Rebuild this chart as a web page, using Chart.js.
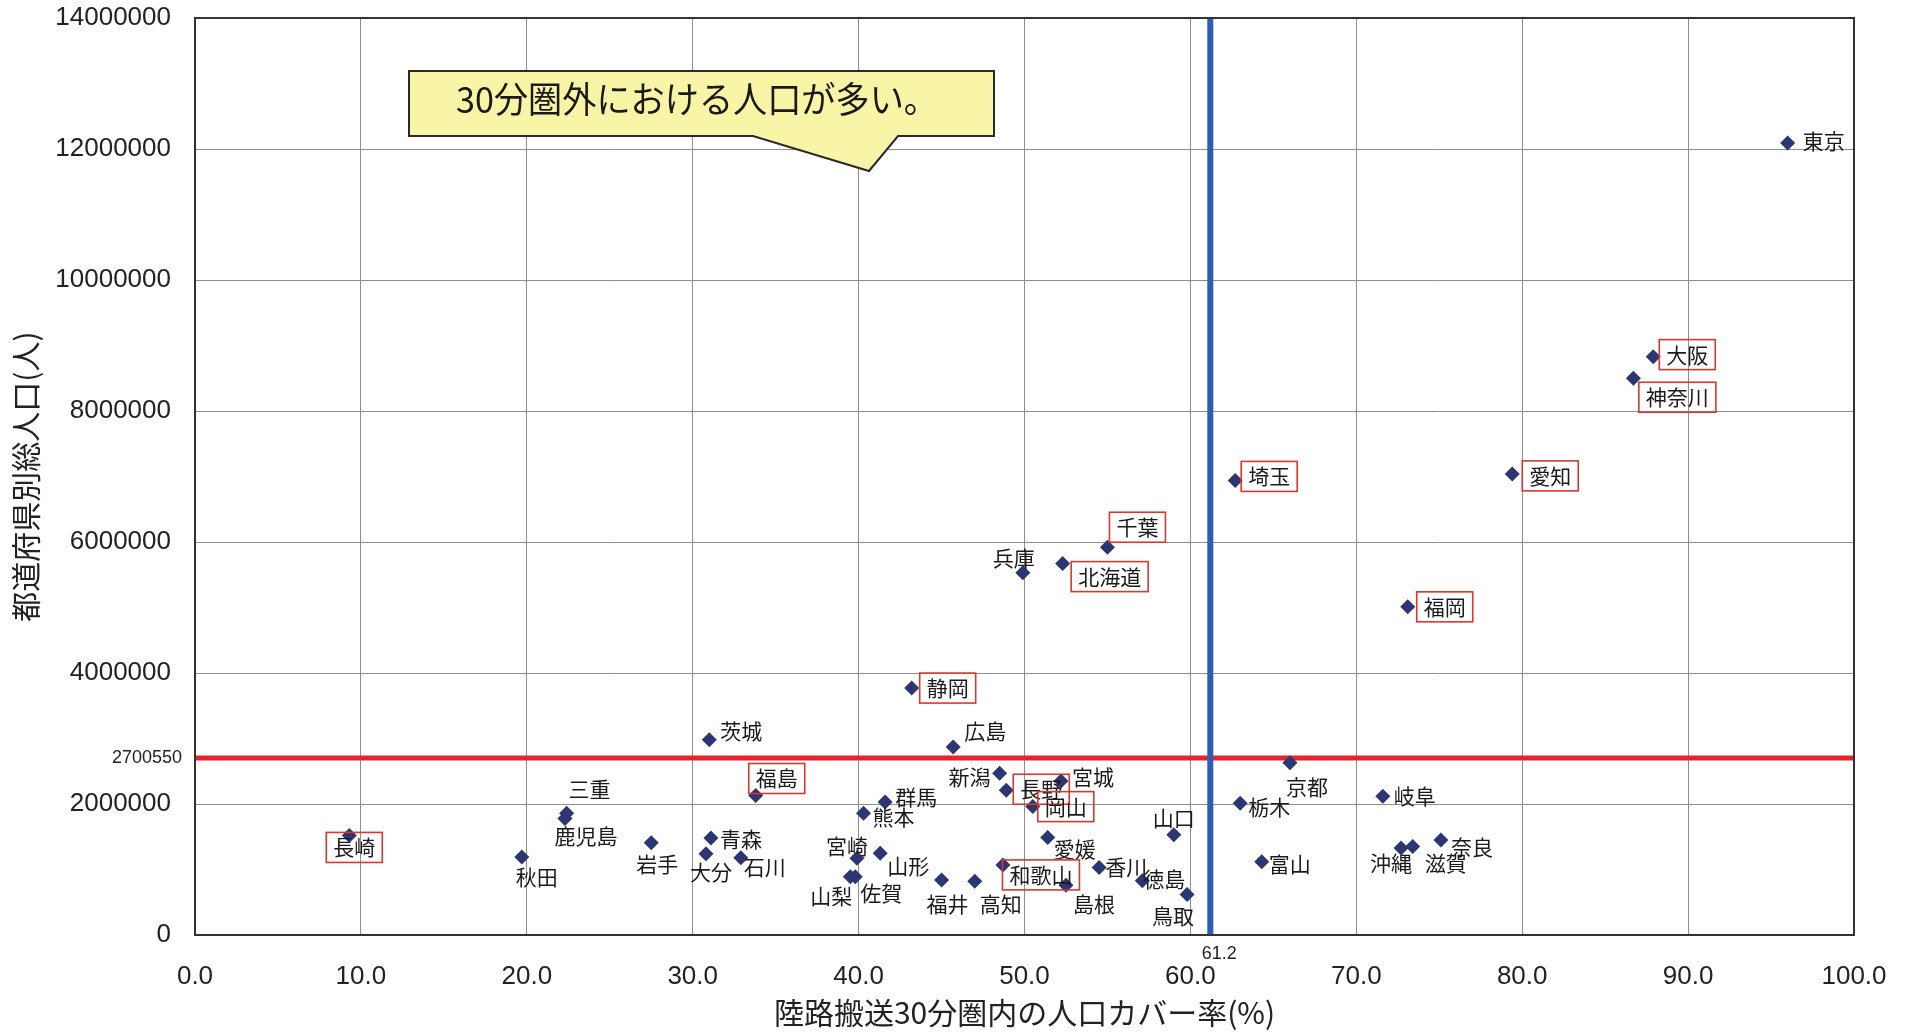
<!DOCTYPE html>
<html>
<head>
<meta charset="utf-8">
<script src="https://cdn.jsdelivr.net/npm/chart.js@4"></script>
<style>
html,body{margin:0;padding:0;background:#fff;}
#wrap{width:1909px;height:1033px;position:relative;}
</style>
</head>
<body>
<div id="wrap"><canvas id="c" width="1909" height="1033"></canvas></div>
<script>
// ---- data ----
const prefectures = ["東京","大阪","神奈川","愛知","埼玉","千葉","北海道","兵庫","福岡","静岡",
  "茨城","広島","京都","新潟","宮城","長野","福島","岐阜","岡山","群馬","栃木","熊本",
  "三重","鹿児島","長崎","山口","青森","愛媛","奈良","岩手","滋賀","沖縄","宮崎","秋田",
  "大分","山形","石川","富山","香川","和歌山","山梨","佐賀","徳島","福井","高知","島根","鳥取"];
const coverageRate = [96.0,87.9,86.7,79.4,62.7,55.0,52.3,49.9,73.1,43.2,
  31.0,45.7,66.0,48.5,52.2,48.9,33.8,71.6,50.5,41.6,63.0,40.3,
  22.4,22.3,9.3,59.0,31.1,51.4,75.1,27.5,73.4,72.7,39.9,19.7,
  30.8,41.3,32.9,64.3,54.5,48.7,39.5,39.8,57.1,45.0,47.0,52.5,59.8];
const totalPopulation = [12090000,8830000,8500000,7040000,6940000,5920000,5670000,5530000,5010000,3770000,
  2980000,2870000,2630000,2470000,2350000,2210000,2130000,2120000,1960000,2030000,2010000,1860000,
  1860000,1780000,1520000,1530000,1480000,1490000,1450000,1410000,1350000,1330000,1170000,1190000,
  1240000,1250000,1180000,1120000,1030000,1070000,890000,890000,830000,840000,820000,760000,620000];
const boxedPrefectures = ["大阪","神奈川","愛知","埼玉","千葉","北海道","福岡","静岡","福島","長野","岡山","和歌山","長崎"];
const averagePopulation = 2700550;
const coverageThreshold = 61.2;
const xTickValues = [0,10,20,30,40,50,60,70,80,90,100];
const yTickValues = [0,2000000,4000000,6000000,8000000,10000000,12000000,14000000];
const calloutText = "30分圏外における人口が多い。";
const xTitle = "陸路搬送30分圏内の人口カバー率(%)";
const yTitle = "都道府県別総人口(人)";

// ---- label placement (pixel offsets of label centre from marker) ----
const labelOffset = {
  "東京":[36,-2],"大阪":[34,-2],"神奈川":[44,19],"愛知":[38,2],"埼玉":[34,-4],"千葉":[30,-20],
  "北海道":[47,13],"兵庫":[-9,-15],"福岡":[37,0],"静岡":[36,0],"茨城":[32,-9],"広島":[32,-16],
  "京都":[17,24],"新潟":[-30,4],"宮城":[32,-4],"長野":[35,-1],"福島":[21,-17],"岐阜":[32,0],
  "岡山":[33,0],"群馬":[31,-5],"栃木":[29,4],"熊本":[30,4],"三重":[23,-24],"鹿児島":[21,18],
  "長崎":[5,12],"山口":[0,-17],"青森":[30,1],"愛媛":[27,12],"奈良":[31,7],"岩手":[6,21],
  "滋賀":[33,16],"沖縄":[-10,15],"宮崎":[-10,-12],"秋田":[15,20],"大分":[5,18],"山形":[28,13],
  "石川":[24,9],"富山":[28,2],"香川":[27,-1],"和歌山":[38,10],"山梨":[-19,19],"佐賀":[26,16],
  "徳島":[22,-2],"福井":[6,24],"高知":[26,23],"島根":[28,19],"鳥取":[-14,22]
};

const points = prefectures.map((n,i)=>({x:coverageRate[i], y:totalPopulation[i], name:n}));

const NUM_FONT = "'Liberation Sans', Arial, sans-serif";
const JP_FONT = "'Noto Sans CJK JP', sans-serif";

const overlayPlugin = {
  id:'overlay',
  afterDatasetsDraw(chart){
    const ctx = chart.ctx;
    const xs = chart.scales.x, ys = chart.scales.y;
    const ca = chart.chartArea;
    ctx.save();
    // plot frame
    ctx.strokeStyle = '#333';
    ctx.lineWidth = 2;
    ctx.strokeRect(ca.left, ca.top, ca.right-ca.left, ca.bottom-ca.top);

    // point labels
    ctx.font = "21px " + JP_FONT;
    ctx.textAlign = 'center';
    ctx.textBaseline = 'middle';
    points.forEach(p=>{
      const px = xs.getPixelForValue(p.x), py = ys.getPixelForValue(p.y);
      const off = labelOffset[p.name] || [25,0];
      const cx = px + off[0], cy = py + off[1];
      ctx.fillStyle = '#1a1a1a';
      ctx.fillText(p.name, cx, cy);
      if (boxedPrefectures.includes(p.name)) {
        const w = ctx.measureText(p.name).width + 14;
        const h = 30;
        ctx.strokeStyle = '#d8382e';
        ctx.lineWidth = 1.6;
        ctx.strokeRect(cx - w/2, cy - h/2, w, h);
      }
    });

    // reference value labels
    ctx.fillStyle = '#222';
    ctx.font = "18px " + NUM_FONT;
    ctx.textAlign = 'right';
    ctx.textBaseline = 'middle';
    ctx.fillText(String(averagePopulation), ca.left - 13, ys.getPixelForValue(averagePopulation));
    ctx.textAlign = 'center';
    ctx.textBaseline = 'middle';
    ctx.fillText(String(coverageThreshold), xs.getPixelForValue(coverageThreshold) + 9, ca.bottom + 19);

    // callout
    ctx.beginPath();
    ctx.moveTo(409,71); ctx.lineTo(994,71); ctx.lineTo(994,136);
    ctx.lineTo(898,136); ctx.lineTo(869,171); ctx.lineTo(753,136);
    ctx.lineTo(409,136); ctx.closePath();
    ctx.fillStyle = '#f8f6a6';
    ctx.fill();
    ctx.strokeStyle = '#2a2a2a';
    ctx.lineWidth = 2;
    ctx.stroke();
    ctx.fillStyle = '#1a1a1a';
    ctx.font = "36px " + JP_FONT;
    ctx.textAlign = 'center';
    ctx.textBaseline = 'middle';
    ctx.fillText(calloutText, 697, 99, 482);
    ctx.restore();
  }
};

new Chart(document.getElementById('c'), {
  type:'scatter',
  data:{
    datasets:[
      {
        label:'threshold', type:'line',
        data:[{x:coverageThreshold,y:0},{x:coverageThreshold,y:14000000}],
        borderColor:'#2f5cb8', borderWidth:6, pointRadius:0, order:2
      },
      {
        label:'average', type:'line',
        data:[{x:0,y:averagePopulation},{x:100,y:averagePopulation}],
        borderColor:'#e8232b', borderWidth:5, pointRadius:0, order:3
      },
      {
        label:'prefectures',
        data:points,
        pointStyle:'rectRot', pointRadius:7.5, pointHoverRadius:7.5,
        backgroundColor:'#2b3673', borderColor:'#2b3673', borderWidth:0, order:1
      }
    ]
  },
  options:{
    responsive:false,
    animation:false,
    devicePixelRatio:1,
    layout:{autoPadding:false, padding:{top:18,right:55,bottom:0,left:0}},
    plugins:{legend:{display:false}, tooltip:{enabled:false}},
    scales:{
      x:{
        type:'linear', min:0, max:100,
        afterFit(s){ s.height = 98; s.paddingLeft = 0; s.paddingRight = 0; },
        afterBuildTicks(s){ s.ticks = xTickValues.map(v=>({value:v})); },
        grid:{color:'#8f8f8f', lineWidth:1, drawTicks:false},
        border:{display:true, color:'#333', width:2},
        ticks:{padding:26, color:'#222', font:{family:NUM_FONT, size:26},
          callback:v=>Number(v).toFixed(1), maxRotation:0, autoSkip:false},
        title:{display:true, text:xTitle, color:'#222', font:{family:JP_FONT, size:30}, padding:{top:0,bottom:2}}
      },
      y:{
        type:'linear', min:0, max:14000000,
        afterFit(s){ s.width = 195; s.paddingTop = 0; s.paddingBottom = 0; },
        afterBuildTicks(s){ s.ticks = yTickValues.map(v=>({value:v})); },
        grid:{color:'#8f8f8f', lineWidth:1, drawTicks:false},
        border:{display:true, color:'#333', width:2},
        ticks:{padding:24, color:'#222', font:{family:NUM_FONT, size:26},
          callback:v=>String(v), autoSkip:false},
        title:{display:true, text:yTitle, color:'#222', font:{family:JP_FONT, size:30}, padding:{top:8,bottom:0}}
      }
    }
  },
  plugins:[overlayPlugin]
});
</script>
</body>
</html>
